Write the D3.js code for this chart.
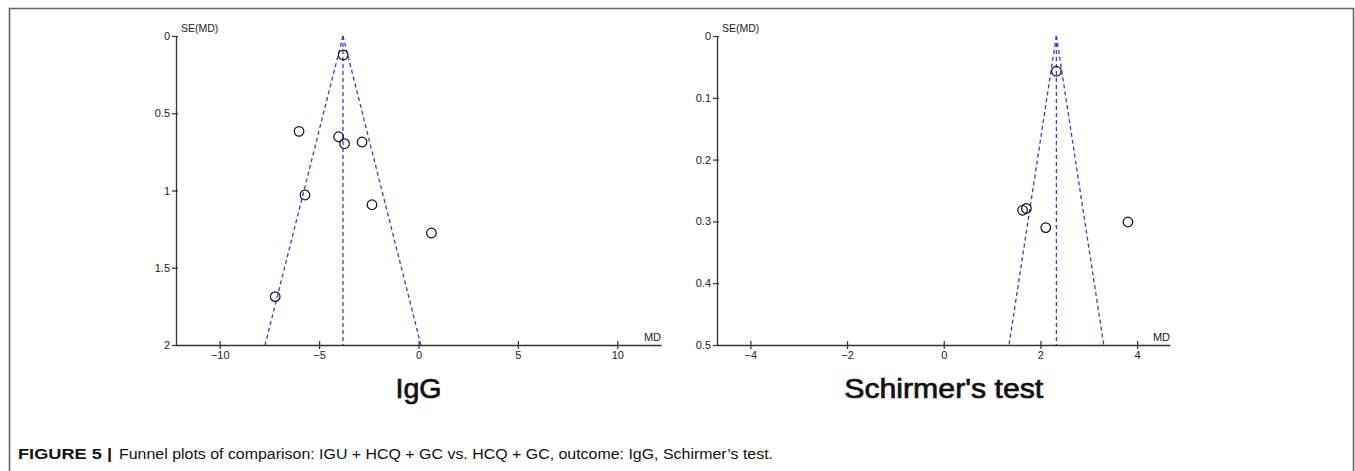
<!DOCTYPE html>
<html>
<head>
<meta charset="utf-8">
<script src="https://cdn.jsdelivr.net/npm/d3@7"></script>
<style>
  html, body { margin: 0; padding: 0; background: #fff; }
  svg { display: block; }
  .tick text { font-family: "Liberation Sans", Arial, sans-serif; font-size: 11px; fill: #222; }
</style>
</head>
<body>
<svg id="chart" width="1355" height="471"></svg>
<script>
// ---- Data ----
const iggMD = [-3.79, -6.01, -4.02, -3.72, -2.84, -5.71, -2.34, 0.65, -7.21];
const iggSE = [0.123, 0.617, 0.652, 0.697, 0.686, 1.029, 1.092, 1.275, 1.687];
const iggPooled = -3.80;
const iggXTicks = [-10, -5, 0, 5, 10];
const iggYTicks = [0, 0.5, 1, 1.5, 2];

const schMD = [2.33, 1.63, 1.71, 2.11, 3.81];
const schSE = [0.057, 0.282, 0.279, 0.310, 0.301];
const schPooled = 2.33;
const schXTicks = [-4, -2, 0, 2, 4];
const schYTicks = [0, 0.1, 0.2, 0.3, 0.4, 0.5];

const panelTitles = ["IgG", "Schirmer's test"];
const captionBold = "FIGURE 5 |";
const captionText = "Funnel plots of comparison: IGU + HCQ + GC vs. HCQ + GC, outcome: IgG, Schirmer\u2019s test.";

const svg = d3.select("#chart");

// frame
svg.append("path")
  .attr("d", "M9.5,480 L9.5,8.5 L1353.5,8.5 L1353.5,480")
  .attr("fill", "none").attr("stroke", "#666").attr("stroke-width", 1.6);

function panel(cfg) {
  const x = d3.scaleLinear().domain(cfg.xDomain).range([cfg.left, cfg.right]);
  const y = d3.scaleLinear().domain([0, cfg.seMax]).range([36, 345]);
  const g = svg.append("g");

  // y axis
  const ya = g.append("g").attr("transform", `translate(${cfg.left},0)`)
    .call(d3.axisLeft(y).tickValues(cfg.yTicks).tickSize(4).tickSizeOuter(0).tickFormat(d3.format("")));
  ya.select(".domain").attr("stroke", "#333").attr("stroke-width", 1.3);
  ya.selectAll(".tick line").attr("x1", 2).attr("stroke", "#333").attr("stroke-width", 1.2);
  ya.selectAll(".tick text").attr("x", -6);

  // x axis
  const xa = g.append("g").attr("transform", `translate(0,345)`)
    .call(d3.axisBottom(x).tickValues(cfg.xTicks).tickSize(4).tickSizeOuter(0).tickFormat(d3.format("")));
  xa.select(".domain").attr("stroke", "#333").attr("stroke-width", 1.3);
  xa.selectAll(".tick line").attr("y1", -4).attr("stroke", "#333").attr("stroke-width", 1.2);
  xa.selectAll(".tick text").attr("y", 6);

  g.append("text").attr("x", cfg.left + 5).attr("y", 32)
    .attr("font-family", "Liberation Sans, Arial, sans-serif").attr("font-size", 10.5).attr("fill", "#222")
    .text("SE(MD)");
  g.append("text").attr("x", cfg.right).attr("y", 341).attr("text-anchor", "end")
    .attr("font-family", "Liberation Sans, Arial, sans-serif").attr("font-size", 11).attr("fill", "#222")
    .text("MD");

  // funnel
  const p = cfg.pooled, s = cfg.seMax;
  const lines = [
    [[p, 0], [p, s]],
    [[p, 0], [p - 1.96 * s, s]],
    [[p, 0], [p + 1.96 * s, s]]
  ];
  g.selectAll(".fl").data(lines).enter().append("line")
    .attr("x1", d => x(d[0][0])).attr("y1", d => y(d[0][1]))
    .attr("x2", d => x(d[1][0])).attr("y2", d => y(d[1][1]))
    .attr("stroke", "#3a3ae0").attr("stroke-width", 1.3).attr("stroke-dasharray", "4,3");

  // points
  g.selectAll(".pt").data(cfg.md.map((m, i) => [m, cfg.se[i]])).enter().append("circle")
    .attr("cx", d => x(d[0])).attr("cy", d => y(d[1])).attr("r", 4.8)
    .attr("fill", "none").attr("stroke", "#111").attr("stroke-width", 1.2);

  // panel title
  const t = g.append("text").attr("x", x(0)).attr("y", 398).attr("text-anchor", "middle")
    .attr("font-family", "Liberation Sans, Arial, sans-serif")
    .attr("font-size", 27.5).attr("fill", "#111")
    .attr("stroke", "#111").attr("stroke-width", 0.7)
    .text(cfg.title);
  if (cfg.titleWidth) t.attr("textLength", cfg.titleWidth).attr("lengthAdjust", "spacingAndGlyphs");
}

panel({ left: 176, right: 661, xDomain: [-12.2, 12.2], seMax: 2, pooled: iggPooled,
        md: iggMD, se: iggSE, xTicks: iggXTicks, yTicks: iggYTicks, title: panelTitles[0], titleWidth: 46 });
panel({ left: 717, right: 1170, xDomain: [-4.69, 4.68], seMax: 0.5, pooled: schPooled,
        md: schMD, se: schSE, xTicks: schXTicks, yTicks: schYTicks, title: panelTitles[1], titleWidth: 199 });

// caption
svg.append("text").attr("x", 18).attr("y", 459)
  .attr("font-family", "Liberation Sans, Arial, sans-serif").attr("font-weight", "bold")
  .attr("font-size", 15.5).attr("fill", "#111")
  .attr("textLength", 94).attr("lengthAdjust", "spacingAndGlyphs")
  .text(captionBold);
svg.append("text").attr("x", 119).attr("y", 459)
  .attr("font-family", "Liberation Sans, Arial, sans-serif")
  .attr("font-size", 15.5).attr("fill", "#111")
  .attr("textLength", 654).attr("lengthAdjust", "spacingAndGlyphs")
  .text(captionText);
</script>
</body>
</html>
